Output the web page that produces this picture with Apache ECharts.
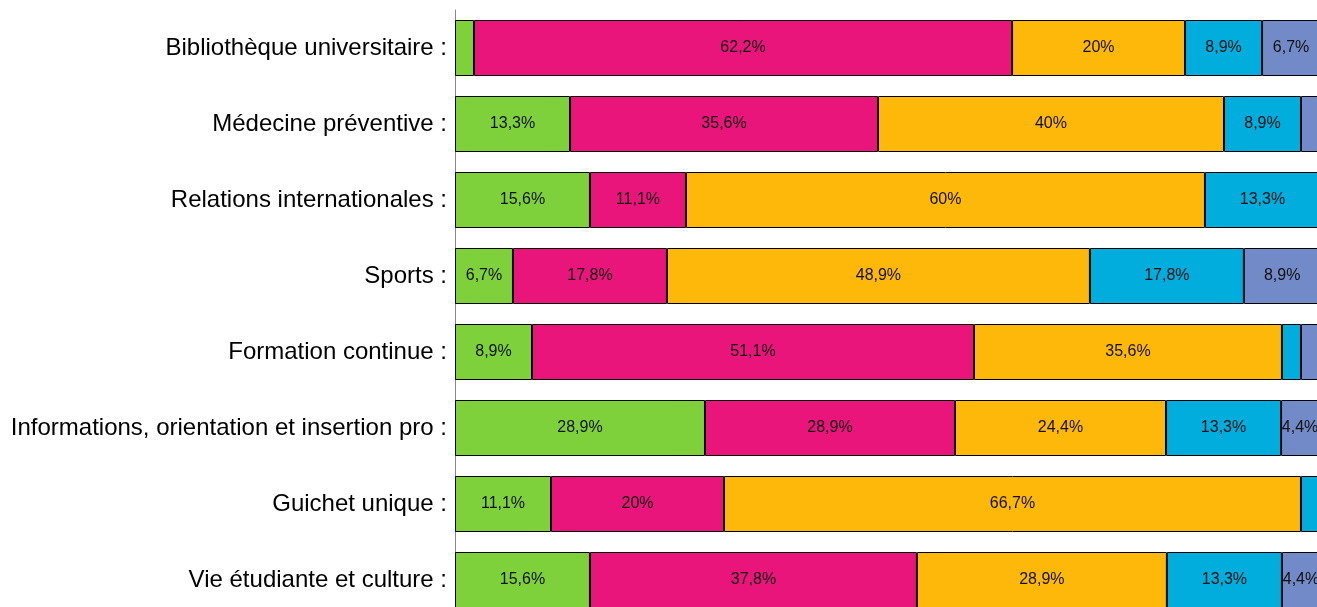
<!DOCTYPE html>
<html>
<head>
<meta charset="utf-8">
<script src="https://cdn.jsdelivr.net/npm/echarts@6/dist/echarts.min.js"></script>
<style>
  html, body { margin: 0; padding: 0; background: #fff; overflow: hidden; }
  #chart { width: 1330px; height: 630px; }
</style>
</head>
<body>
<div id="chart"></div>
<script>
// categories, top to bottom
const categories = [
  'Bibliothèque universitaire :',
  'Médecine préventive :',
  'Relations internationales :',
  'Sports :',
  'Formation continue :',
  'Informations, orientation et insertion pro :',
  'Guichet unique :',
  'Vie étudiante et culture :'
]
// share of answers (%), one array per colour
const serie1 = [2.2, 13.3, 15.6, 6.7, 8.9, 28.9, 11.1, 15.6]
const serie2 = [62.2, 35.6, 11.1, 17.8, 51.1, 28.9, 20, 37.8]
const serie3 = [20, 40, 60, 48.9, 35.6, 24.4, 66.7, 28.9]
const serie4 = [8.9, 8.9, 13.3, 17.8, 2.2, 13.3, 2.2, 13.3]
const serie5 = [6.7, 2.2, 0, 8.9, 2.2, 4.4, 0, 4.4]

const colors = ['#7fd13b', '#ea157a', '#feb80a', '#00addc', '#738ac8']

function makeSeries(name, data) {
  return {
    name: name,
    type: 'bar',
    stack: 'total',
    barWidth: 56,
    data: data,
    itemStyle: { borderColor: '#000', borderWidth: 1 },
    label: {
      show: true,
      position: 'inside',
      color: '#111',
      fontSize: 16,
      fontFamily: 'Liberation Sans, Arial, sans-serif',
      formatter: p => (p.value < 3 ? '' : String(p.value).replace('.', ',') + '%')
    }
  }
}

// the plot runs a little past the right and bottom edges of the window
const chart = echarts.init(document.getElementById('chart'))
chart.setOption({
  animation: false,
  color: colors,
  grid: { left: 455, top: 10, width: 865, height: 608 },
  xAxis: {
    type: 'value',
    min: 0,
    max: 100,
    show: false
  },
  yAxis: {
    type: 'category',
    inverse: true,
    data: categories,
    axisLine: { show: true, lineStyle: { color: '#888', width: 1 } },
    axisTick: { show: false },
    axisLabel: {
      color: '#000',
      fontSize: 24,
      margin: 8,
      fontFamily: 'Liberation Sans, Arial, sans-serif'
    }
  },
  series: [
    makeSeries('Série 1', serie1),
    makeSeries('Série 2', serie2),
    makeSeries('Série 3', serie3),
    makeSeries('Série 4', serie4),
    makeSeries('Série 5', serie5)
  ]
})
</script>
</body>
</html>
